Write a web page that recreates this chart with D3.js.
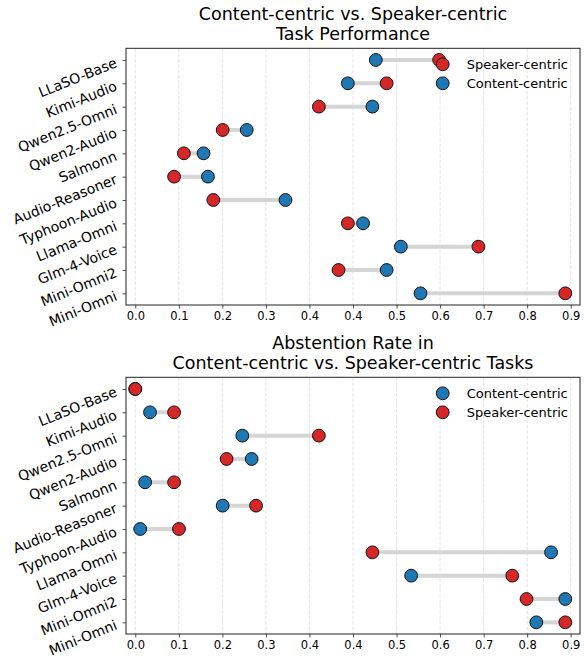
<!DOCTYPE html>
<html><head><meta charset="utf-8">
<script src="https://cdn.jsdelivr.net/npm/d3@7"></script>
<style>body{margin:0;background:#fff}svg{display:block}text{font-family:"DejaVu Sans",sans-serif;fill:#000}</style>
</head><body>
<svg id="c" width="586" height="662"></svg>
<script>
const categories = ["LLaSO-Base","Kimi-Audio","Qwen2.5-Omni","Qwen2-Audio","Salmonn","Audio-Reasoner","Typhoon-Audio","Llama-Omni","Glm-4-Voice","Mini-Omni2","Mini-Omni"];
const perfContent = [0.490,0.433,0.483,0.227,0.139,0.148,0.306,0.464,0.541,0.512,0.581];
const perfSpeaker = [0.619,0.512,0.374,0.178,0.099,0.079,0.159,0.433,0.699,0.414,0.876];
const absContent  = [0.000,0.030,0.218,0.237,0.020,0.178,0.010,0.847,0.562,0.876,0.817];
const absSpeaker  = [0.000,0.079,0.374,0.186,0.079,0.246,0.089,0.483,0.768,0.797,0.876];
const tickMax = 0.887;
const tickValues = d3.range(11).map(i => i * tickMax / 10);
const titles = [["Content-centric vs. Speaker-centric","Task Performance"],["Abstention Rate in","Content-centric vs. Speaker-centric Tasks"]];
const seriesNames = ["Content-centric","Speaker-centric"];

const BLUE = "#1f77b4", RED = "#d62728";
const svg = d3.select("#c");
const L = 126, R = 580;
const pad = 9.3 / (435.4 / tickMax);
const x = d3.scaleLinear().domain([-pad, tickMax + pad]).range([L, R]);

function panel(top, bottom, content, speaker, title, legendOrder, drawOrder) {
  const g = svg.append("g");
  const y = d3.scaleLinear().domain([-0.5, categories.length - 0.5]).range([top, bottom]);
  // grid
  g.selectAll(".grid").data(tickValues).join("line")
    .attr("x1", d => x(d)).attr("x2", d => x(d)).attr("y1", top).attr("y2", bottom)
    .attr("stroke", "#b0b0b0").attr("stroke-opacity", 0.45).attr("stroke-width", 0.8)
    .attr("stroke-dasharray", "3.7,1.6");
  // connectors
  g.selectAll(".conn").data(categories).join("line")
    .attr("x1", (d, i) => x(content[i])).attr("x2", (d, i) => x(speaker[i]))
    .attr("y1", (d, i) => y(i)).attr("y2", (d, i) => y(i))
    .attr("stroke", "#d3d3d3").attr("stroke-width", 4).attr("opacity", 0.95);
  const series = {c: {vals: content, col: BLUE}, s: {vals: speaker, col: RED}};
  drawOrder.forEach(k => {
    g.selectAll(".pt" + k).data(series[k].vals).join("circle")
      .attr("cx", d => x(d)).attr("cy", (d, i) => y(i)).attr("r", 6.4)
      .attr("fill", series[k].col).attr("stroke", "#111").attr("stroke-width", 1);
  });
  // frame
  g.append("rect").attr("x", L).attr("y", top).attr("width", R - L).attr("height", bottom - top)
    .attr("fill", "none").attr("stroke", "#222").attr("stroke-width", 1);
  // x axis
  const xa = g.append("g").attr("transform", `translate(0,${bottom})`)
    .call(d3.axisBottom(x).tickValues(tickValues).tickFormat(d3.format(".1f")).tickSize(3.5).tickPadding(3));
  xa.select(".domain").remove();
  xa.selectAll("line").attr("stroke", "#222").attr("stroke-width", 0.8);
  xa.selectAll("text").attr("font-size", 11.5).attr("font-family", "DejaVu Sans").attr("fill", "#000");
  // y axis
  const ya = g.append("g").attr("transform", `translate(${L},0)`)
    .call(d3.axisLeft(y).tickValues(d3.range(categories.length)).tickFormat(i => categories[i]).tickSize(3.5).tickPadding(3));
  ya.select(".domain").remove();
  ya.selectAll("line").attr("stroke", "#222").attr("stroke-width", 0.8);
  ya.selectAll("text").attr("font-size", 14).attr("font-family", "DejaVu Sans").attr("fill", "#000")
    .attr("text-anchor", "end").attr("x", 0).attr("dy", null)
    .attr("transform", "translate(-8,6) rotate(-22)");
  // title
  const cx = (L + R) / 2;
  title.forEach((t, i) => {
    g.append("text").attr("x", cx).attr("y", top - 28 + i * 20).attr("text-anchor", "middle")
      .attr("font-size", 17.5).text(t);
  });
  // legend
  legendOrder.forEach((k, i) => {
    const ly = top + 16 + i * 19;
    g.append("circle").attr("cx", 442.7).attr("cy", ly).attr("r", 6.4)
      .attr("fill", series[k].col).attr("stroke", "#111").attr("stroke-width", 1);
    g.append("text").attr("x", 466.7).attr("y", ly).attr("dy", "0.36em").attr("font-size", 13)
      .text(k === "c" ? seriesNames[0] : seriesNames[1]);
  });
}
panel(48.3, 305, perfContent, perfSpeaker, titles[0], ["s", "c"], ["s", "c"]);
panel(377.3, 634, absContent, absSpeaker, titles[1], ["c", "s"], ["c", "s"]);
</script>
</body></html>
